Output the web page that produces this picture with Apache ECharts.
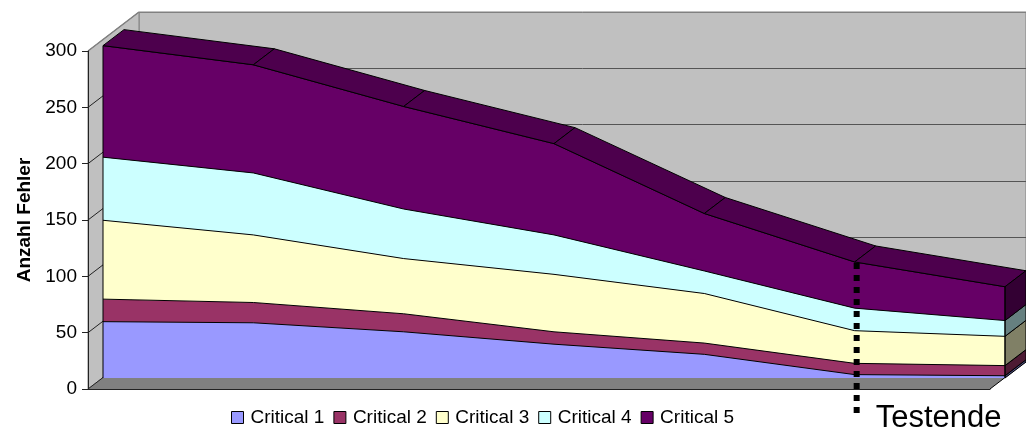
<!DOCTYPE html>
<html>
<head>
<meta charset="utf-8">
<script src="https://cdn.jsdelivr.net/npm/echarts@6/dist/echarts.min.js"></script>
<style>
html, body { margin: 0; padding: 0; background: #fff; }
#main { width: 1026px; height: 433px; }
</style>
</head>
<body>
<div id="main"></div>
<script>
var categories = ['1', '2', '3', '4', '5', '6', '7'];
var yTicks = [0, 50, 100, 150, 200, 250, 300];
var names = ['Critical 1', 'Critical 2', 'Critical 3', 'Critical 4', 'Critical 5'];
var critical1 = [50, 49, 41, 30, 21, 3, 2];
var critical2 = [20, 18, 16, 11, 10, 10, 9];
var critical3 = [70, 60, 49, 51, 44, 29, 26];
var critical4 = [56, 55, 44, 35, 20, 20, 14];
var critical5 = [99, 96, 91, 81, 51, 41, 30];
var testEndIndex = 5;

var values = [critical1, critical2, critical3, critical4, critical5];
var colors = ['#9999ff', '#993366', '#ffffcc', '#ccffff', '#660066'];
var sideColors = ['#4d4d80', '#4d1a33', '#808066', '#668080', '#330033'];
var topColor = '#4d004d';
var fontName = '"Liberation Sans", Arial, sans-serif';

// 3D look: pixel offsets of the depth direction
var wallDepth = [51, -39];
var areaDepth = [21, -16];

var lastIndex = categories.length - 1;
var totals = categories.map(function(c, i) {
    return values.reduce(function(sum, arr) { return sum + arr[i]; }, 0);
});

function shift(p, d) {
    return [p[0] + d[0], p[1] + d[1]];
}

function polygon(points, fill, stroke, z2) {
    return {
        type: 'polygon',
        z2: z2 || 0,
        shape: { points: points },
        style: { fill: fill, stroke: stroke || null, lineWidth: 1 }
    };
}

// left wall + floor
function renderWalls(params, api) {
    var a = api.coord([0, 0]);
    var b = api.coord([0, 300]);
    var c = api.coord([lastIndex, 0]);
    return {
        type: 'group',
        children: [
            polygon([b, shift(b, wallDepth), shift(a, wallDepth), a], '#c0c0c0', '#808080'),
            polygon([a, shift(a, wallDepth), shift(c, wallDepth), c], '#808080', null),
            {
                type: 'line',
                shape: { x1: c[0], y1: c[1], x2: c[0] + wallDepth[0], y2: c[1] + wallDepth[1] },
                style: { stroke: '#000', lineWidth: 1 }
            }
        ]
    };
}

// gridlines running over the left wall
function renderWallTick(params, api) {
    var v = yTicks[params.dataIndex];
    var p = api.coord([0, v]);
    return {
        type: 'line',
        shape: { x1: p[0], y1: p[1], x2: p[0] + wallDepth[0], y2: p[1] + wallDepth[1] },
        style: { stroke: v == 300 ? '#808080' : '#222', lineWidth: v == 300 ? 1.5 : 1 }
    };
}

// top ribbon of the stack
function renderRibbon(params, api) {
    var i = params.dataIndex;
    if (i == lastIndex) {
        return null;
    }
    var p = api.coord([i, totals[i]]);
    var q = api.coord([i + 1, totals[i + 1]]);
    return polygon([p, q, shift(q, areaDepth), shift(p, areaDepth)], topColor, '#000');
}

// right side face, one block per series
function renderSide(params, api) {
    var s = params.dataIndex;
    var low = 0;
    for (var k = 0; k < s; k++) {
        low += values[k][lastIndex];
    }
    var p = api.coord([lastIndex, low]);
    var q = api.coord([lastIndex, low + values[s][lastIndex]]);
    return polygon([p, q, shift(q, areaDepth), shift(p, areaDepth)], sideColors[s], '#000');
}

// vertical edges at both ends of the front face
function renderEdge(params, api) {
    var i = params.dataIndex == 0 ? 0 : lastIndex;
    var p = api.coord([i, 0]);
    var q = api.coord([i, totals[i]]);
    return {
        type: 'line',
        shape: { x1: p[0], y1: p[1], x2: q[0], y2: q[1] },
        style: { stroke: '#000', lineWidth: 1 }
    };
}

function renderTestEnd(params, api) {
    var p = api.coord([testEndIndex, totals[testEndIndex]]);
    var b = api.coord([testEndIndex, 0]);
    return {
        type: 'group',
        children: [{
            type: 'line',
            shape: { x1: p[0] + 2, y1: p[1] + 1, x2: p[0] + 2, y2: b[1] + 35 },
            style: { stroke: '#000', lineWidth: 6, lineDash: [6, 6] }
        }, {
            type: 'text',
            style: {
                x: p[0] + 21,
                y: b[1] + 25,
                text: 'Testende',
                fill: '#000',
                font: '31px ' + fontName
            }
        }]
    };
}

var myseries = [{
    name: 'walls',
    type: 'custom',
    xAxisIndex: 1,
    yAxisIndex: 1,
    z: 1,
    silent: true,
    renderItem: renderWalls,
    data: [[0, 0]]
}, {
    name: 'wallTicks',
    type: 'custom',
    xAxisIndex: 1,
    yAxisIndex: 1,
    z: 1.5,
    silent: true,
    renderItem: renderWallTick,
    data: yTicks.map(function(v) { return [0, v]; })
}];

for (var s = 0; s < names.length; s++) {
    myseries.push({
        name: names[s],
        type: 'line',
        xAxisIndex: 2,
        yAxisIndex: 2,
        stack: 'total',
        z: 2,
        symbol: 'none',
        itemStyle: { color: colors[s] },
        lineStyle: { color: '#000', width: 1 },
        areaStyle: { color: colors[s], opacity: 1 },
        data: values[s]
    });
}

myseries.push({
    name: 'ribbon',
    type: 'custom',
    xAxisIndex: 2,
    yAxisIndex: 2,
    z: 3,
    silent: true,
    renderItem: renderRibbon,
    data: totals.map(function(t, i) { return [i, t]; })
}, {
    name: 'side',
    type: 'custom',
    xAxisIndex: 2,
    yAxisIndex: 2,
    z: 3,
    silent: true,
    renderItem: renderSide,
    data: names.map(function(n, i) { return [lastIndex, i]; })
}, {
    name: 'edges',
    type: 'custom',
    xAxisIndex: 2,
    yAxisIndex: 2,
    z: 4,
    silent: true,
    renderItem: renderEdge,
    data: [[0, 0], [lastIndex, 0]]
}, {
    name: 'testEnd',
    type: 'custom',
    xAxisIndex: 2,
    yAxisIndex: 2,
    z: 6,
    silent: true,
    renderItem: renderTestEnd,
    data: [[testEndIndex, 0]]
});

function hiddenX(grid) {
    return {
        type: 'category',
        gridIndex: grid,
        data: categories,
        boundaryGap: false,
        show: false
    };
}

function hiddenY(grid) {
    return {
        type: 'value',
        gridIndex: grid,
        min: 0,
        max: 300,
        interval: 50,
        show: false
    };
}

var myChart = echarts.init(document.getElementById('main'), null, { renderer: 'canvas' });

myChart.setOption({
    animation: false,
    backgroundColor: '#fff',
    textStyle: { fontFamily: fontName },
    legend: {
        left: 231,
        top: 408,
        padding: 0,
        itemWidth: 12,
        itemHeight: 12,
        itemGap: 9,
        selectedMode: false,
        icon: 'rect',
        itemStyle: { borderColor: '#000', borderWidth: 1 },
        lineStyle: { opacity: 0 },
        textStyle: { fontFamily: fontName, fontSize: 19, color: '#000', padding: [0, 0, 0, 2] },
        data: names
    },
    grid: [
        // back wall, runs off the right side of the picture
        { left: 139, top: 12, width: 902, height: 338, show: true, backgroundColor: '#c0c0c0', borderColor: '#808080', borderWidth: 1 },
        // front plane with the visible axes
        { left: 88, top: 51, width: 902, height: 338 },
        // plane of the area faces
        { left: 103, top: 40, width: 902, height: 338 }
    ],
    xAxis: [
        hiddenX(0),
        {
            type: 'category',
            gridIndex: 1,
            data: categories,
            boundaryGap: false,
            z: 5,
            axisLine: { lineStyle: { color: '#222', width: 1 } },
            axisTick: { show: false },
            axisLabel: { show: false }
        },
        hiddenX(2)
    ],
    yAxis: [
        {
            type: 'value',
            gridIndex: 0,
            min: 0,
            max: 300,
            interval: 50,
            axisLine: { show: false },
            axisTick: { show: false },
            axisLabel: { show: false },
            splitLine: { show: true, lineStyle: { color: ['#808080', '#555', '#555', '#555', '#555', '#555', '#808080'], width: 1 } }
        },
        {
            type: 'value',
            gridIndex: 1,
            min: 0,
            max: 300,
            interval: 50,
            z: 5,
            name: 'Anzahl Fehler',
            nameLocation: 'middle',
            nameRotate: 90,
            nameGap: 52,
            nameTextStyle: { fontFamily: fontName, fontSize: 19, fontWeight: 'bold', color: '#000' },
            axisLine: { show: true, lineStyle: { color: '#222', width: 1 } },
            axisTick: { show: true, length: 6, lineStyle: { color: '#222', width: 1 } },
            axisLabel: { fontFamily: fontName, fontSize: 19, color: '#000', margin: 11 },
            splitLine: { show: false }
        },
        hiddenY(2)
    ],
    series: myseries
});
</script>
</body>
</html>
